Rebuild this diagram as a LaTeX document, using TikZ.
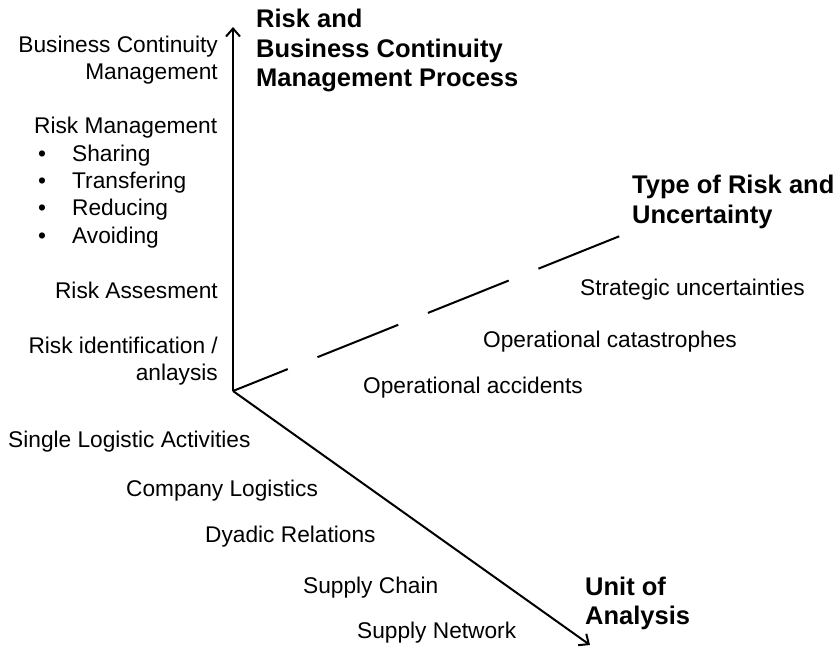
\documentclass[tikz,border=0pt]{standalone}
\usepackage{fontspec}
\setmainfont{Liberation Sans}
\usetikzlibrary{arrows.meta}
\tikzset{
	axis/.style = {line width=2pt, -{Straight Barb[length=8pt,width=14pt]}},
	lbl/.style = {font=\fontsize{22.7}{27}\selectfont, inner sep=0pt},
	ttl/.style = {font=\fontsize{25.5}{29.5}\selectfont\bfseries, inner sep=0pt}
}
\begin{document}
\begin{tikzpicture}[x=1pt, y=-1pt]
	\useasboundingbox (0,0) rectangle (835,647);
	\coordinate (O) at (233,391);
	\coordinate (up) at (233,27);
	\coordinate (down) at (590,645);
	\coordinate (far) at (620,236);

	\draw [axis] (O) -- (up);
	\draw [axis] (O) -- (down);
	\draw [line width=2pt, dash pattern=on 87pt off 32pt, dash phase=28pt] (O) -- (far);

	% axis titles
	\node [ttl, anchor=base west] (tproc1) at (256,28) {Risk and};
	\node [ttl, anchor=base west] (tproc2) at (256,58) {Business Continuity};
	\node [ttl, anchor=base west] (tproc3) at (256,87) {Management Process};
	\node [ttl, anchor=base west] (ttype1) at (632,194) {Type of Risk and};
	\node [ttl, anchor=base west] (ttype2) at (632,223) {Uncertainty};
	\node [ttl, anchor=base west] (tunit1) at (585,595) {Unit of};
	\node [ttl, anchor=base west] (tunit2) at (585,624) {Analysis};

	% process axis
	\node [lbl, anchor=base east] (bcm1) at (218,53) {Business Continuity};
	\node [lbl, anchor=base east] (bcm2) at (218,80) {Management};
	\node [lbl, anchor=base west] (rm) at (34,134) {Risk Management};
	\foreach \t [count=\i] in {Sharing, Transfering, Reducing, Avoiding} {
		\node [lbl, anchor=base] (b\i) at (42,{134+27.3*\i}) {\textbullet};
		\node [lbl, anchor=base west] (rm\i) at (72,{134+27.3*\i}) {\t};
	}
	\node [lbl, anchor=base east] (ra) at (218,298) {Risk Assesment};
	\node [lbl, anchor=base east] (ri1) at (218,353) {Risk identification /};
	\node [lbl, anchor=base east] (ri2) at (218,380) {anlaysis};

	% risk axis
	\node [lbl, anchor=base west] (opacc) at (363,393) {Operational accidents};
	\node [lbl, anchor=base west] (opcat) at (483,347) {Operational catastrophes};
	\node [lbl, anchor=base west] (strat) at (580,295) {Strategic uncertainties};

	% unit axis
	\node [lbl, anchor=base west] (single) at (8,447) {Single Logistic Activities};
	\node [lbl, anchor=base west] (comp) at (126,496) {Company Logistics};
	\node [lbl, anchor=base west] (dyad) at (205,542) {Dyadic Relations};
	\node [lbl, anchor=base west] (chain) at (303,593) {Supply Chain};
	\node [lbl, anchor=base west] (netw) at (357,638) {Supply Network};
\end{tikzpicture}
\end{document}
